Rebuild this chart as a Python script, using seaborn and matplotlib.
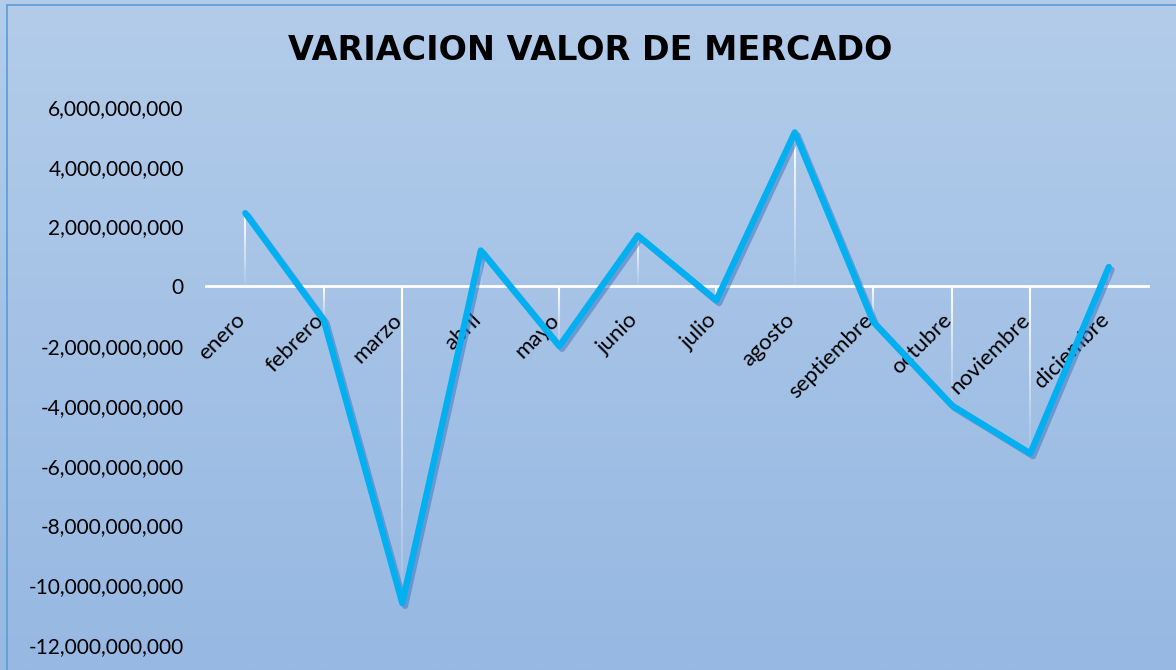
import numpy as np
import pandas as pd
import matplotlib
matplotlib.use("Agg")
import matplotlib.pyplot as plt
import matplotlib.patheffects as pe
import matplotlib.transforms as mtransforms
from matplotlib.colors import LinearSegmentedColormap
from matplotlib.collections import LineCollection
from matplotlib.ticker import FuncFormatter, MultipleLocator
import seaborn as sns

# datos
meses = ["enero", "febrero", "marzo", "abril", "mayo", "junio", "julio",
         "agosto", "septiembre", "octubre", "noviembre", "diciembre"]
variacion = [2.45e9, -1.14e9, -10.6e9, 1.2e9, -2.0e9, 1.7e9, -0.47e9,
             5.15e9, -1.19e9, -3.98e9, -5.59e9, 0.65e9]
titulo = "VARIACION VALOR DE MERCADO"

sns.set_style("white")
plt.rcParams["font.family"] = ["Lato", "DejaVu Sans"]

df = pd.DataFrame({"mes": meses, "variacion": variacion})

fig = plt.figure(figsize=(11.76, 6.70), dpi=100)

# fondo con degradado
bg = fig.add_axes([0, 0, 1, 1], zorder=0)
grad = np.linspace(0, 1, 256).reshape(-1, 1)
cmap_bg = LinearSegmentedColormap.from_list("bg", ["#B3CCEA", "#96B8E2"])
bg.imshow(grad, aspect="auto", cmap=cmap_bg, extent=[0, 1, 0, 1], origin="upper")
bg.plot([0.006, 0.006], [0, 0.993], color="#5B9BD5", lw=1.2)
bg.plot([0.006, 1], [0.993, 0.993], color="#5B9BD5", lw=1.2)
bg.set_xlim(0, 1)
bg.set_ylim(0, 1)
bg.set_axis_off()

ax = fig.add_axes([0.1752, 0.0373, 0.8010, 0.8030], zorder=1)
ax.patch.set_alpha(0)

sns.lineplot(data=df, x="mes", y="variacion", sort=False, color="#00B0F0",
             linewidth=4.5, ax=ax, solid_capstyle="round", solid_joinstyle="round",
             zorder=3)
ax.lines[0].set_path_effects([
    pe.SimpleLineShadow(offset=(2, -2), shadow_color="#3F78C0", alpha=0.55),
    pe.Normal(),
])

# lineas de caida con degradado blanco
n = 30
for i, v in enumerate(variacion):
    ys = np.linspace(max(v, 0), min(v, 0), n + 1)
    segs = [[(i, ys[k]), (i, ys[k + 1])] for k in range(n)]
    alphas = np.linspace(1, 0.05, n)
    lc = LineCollection(segs, colors=[(1, 1, 1, a) for a in alphas],
                        linewidths=1.5, zorder=2)
    ax.add_collection(lc)

ax.set_xlim(-0.5, 11.5)
ax.set_ylim(-12e9, 6e9)
ax.yaxis.set_major_locator(MultipleLocator(2e9))
ax.yaxis.set_major_formatter(FuncFormatter(lambda v, p: f"{v:,.0f}"))

for s in ["left", "top", "right"]:
    ax.spines[s].set_visible(False)
ax.spines["bottom"].set_position(("data", 0))
ax.spines["bottom"].set_color("white")
ax.spines["bottom"].set_linewidth(2)

ax.tick_params(axis="y", length=0, pad=16, labelsize=15, colors="black")
ax.tick_params(axis="x", length=0, pad=22, labelsize=16, colors="black")
desplaza = mtransforms.ScaledTranslation(-3 / 100, 0, fig.dpi_scale_trans)
for lab in ax.get_xticklabels():
    lab.set_rotation(45)
    lab.set_ha("right")
    lab.set_va("center")
    lab.set_rotation_mode("anchor")
    lab.set_transform(lab.get_transform() + desplaza)
ax.set_xlabel("")
ax.set_ylabel("")

fig.text(0.502, 0.925, titulo, ha="center", va="center", fontsize=24,
         fontweight="bold", family="DejaVu Sans", color="black")

fig.savefig("out.png", dpi=100)
